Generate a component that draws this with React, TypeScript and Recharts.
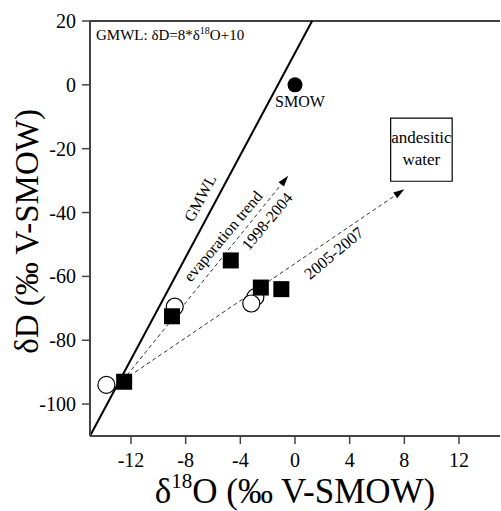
import React from 'react';
import {
  ScatterChart, Scatter, XAxis, YAxis, ReferenceLine, ReferenceDot, ReferenceArea,
} from 'recharts';

const FONT = "'Liberation Serif', 'DejaVu Serif', serif";

// Observed data
const squaresX = [-12.5, -9.0, -4.7, -2.5, -1.0];
const squaresY = [-93, -72.5, -55, -63.5, -64];
const circlesX = [-13.8, -8.8, -2.9, -3.2];
const circlesY = [-94, -69.5, -66.5, -68.5];
const smowX = [0];
const smowY = [0];

// GMWL endpoints (dD = 8*d18O + 10)
const gmwlX = [-15, 1.25];
const gmwlY = [-110, 20];

// Trend arrows
const trend1998X = [-12.3, -0.5];
const trend1998Y = [-91, -28.5];
const trend2005X = [-11.7, 8.0];
const trend2005Y = [-90, -32.7];

// Andesitic water box
const boxX = [7, 11.5];
const boxY = [-30.2, -10.4];

const xTicks = [-12, -8, -4, 0, 4, 8, 12];
const yTicks = [20, 0, -20, -40, -60, -80, -100];

const squares = squaresX.map((x, i) => ({ x, y: squaresY[i] }));
const circles = circlesX.map((x, i) => ({ x, y: circlesY[i] }));
const smow = smowX.map((x, i) => ({ x, y: smowY[i] }));

const SquareShape = (p: any) => (
  <rect x={p.cx - 8} y={p.cy - 8} width={16} height={16} fill="#000" />
);
const CircleShape = (p: any) => (
  <circle cx={p.cx} cy={p.cy} r={8.5} fill="#fff" stroke="#000" strokeWidth={1.2} />
);
const SmowShape = (p: any) => <circle cx={p.cx} cy={p.cy} r={7.5} fill="#000" />;

const ArrowLine = (p: any) => {
  const { x1, y1, x2, y2 } = p;
  const ang = Math.atan2(y2 - y1, x2 - x1);
  const L = 11;
  const W = 3.5;
  const bx = x2 - L * Math.cos(ang);
  const by = y2 - L * Math.sin(ang);
  const nx = -Math.sin(ang) * W;
  const ny = Math.cos(ang) * W;
  return (
    <g>
      <line x1={x1} y1={y1} x2={bx} y2={by} stroke="#333" strokeWidth={1} strokeDasharray="4 3" />
      <polygon points={`${x2},${y2} ${bx + nx},${by + ny} ${bx - nx},${by - ny}`} fill="#000" />
    </g>
  );
};

const rotText = (txt: string, angle: number, size: number) => (p: any) => (
  <text
    x={p.cx}
    y={p.cy}
    transform={`rotate(${angle}, ${p.cx}, ${p.cy})`}
    textAnchor="middle"
    dominantBaseline="central"
    fontFamily={FONT}
    fontSize={size}
    fill="#000"
  >
    {txt}
  </text>
);

export default function App() {
  return (
    <div style={{ position: 'absolute', left: 0, top: 0, background: '#fff' }}>
      <ScatterChart width={501} height={511} margin={{ top: 21, right: 1, left: 0, bottom: 0 }}>
        <XAxis
          type="number"
          dataKey="x"
          domain={[-15, 15]}
          ticks={xTicks}
          allowDataOverflow
          height={75}
          tickSize={8}
          tickMargin={9}
          stroke="#444"
          strokeWidth={2}
          fontFamily={FONT}
          tick={{ fill: '#000', fontSize: 20, fontFamily: FONT }}
          tickLine={{ stroke: '#444', strokeWidth: 1.5 }}
          label={{
            content: (props: any) => {
              const vb = props.viewBox;
              return (
                <text x={vb.x + vb.width / 2} y={503} textAnchor="middle" fontFamily={FONT} fontSize={35} fill="#000">
                  δ<tspan fontSize={21} dy={-15}>18</tspan><tspan dy={15}>O (‰  V-SMOW)</tspan>
                </text>
              );
            },
          }}
        />
        <YAxis
          type="number"
          dataKey="y"
          domain={[-110, 20]}
          ticks={yTicks}
          allowDataOverflow
          width={90}
          tickSize={8}
          tickMargin={6}
          stroke="#444"
          strokeWidth={2}
          fontFamily={FONT}
          tick={{ fill: '#000', fontSize: 20, fontFamily: FONT }}
          tickLine={{ stroke: '#444', strokeWidth: 1.5 }}
          label={{
            content: (props: any) => {
              const vb = props.viewBox;
              const cy = vb.y + vb.height / 2 + 3;
              return (
                <text x={38} y={cy} transform={`rotate(-90, 38, ${cy})`} textAnchor="middle" fontFamily={FONT} fontSize={33} fill="#000">
                  δD (‰  V-SMOW)
                </text>
              );
            },
          }}
        />
        <ReferenceLine y={20} stroke="#000" strokeWidth={1.5} ifOverflow="visible" />
        <ReferenceLine
          segment={[{ x: gmwlX[0], y: gmwlY[0] }, { x: gmwlX[1], y: gmwlY[1] }]}
          stroke="#000"
          strokeWidth={2}
          ifOverflow="visible"
        />
        <ReferenceLine
          segment={[{ x: trend1998X[0], y: trend1998Y[0] }, { x: trend1998X[1], y: trend1998Y[1] }]}
          ifOverflow="visible"
          shape={ArrowLine}
        />
        <ReferenceLine
          segment={[{ x: trend2005X[0], y: trend2005Y[0] }, { x: trend2005X[1], y: trend2005Y[1] }]}
          ifOverflow="visible"
          shape={ArrowLine}
        />
        <ReferenceArea
          x1={boxX[0]}
          x2={boxX[1]}
          y1={boxY[0]}
          y2={boxY[1]}
          stroke="#000"
          strokeWidth={1.2}
          fill="#fff"
          fillOpacity={1}
          ifOverflow="visible"
        />
        <ReferenceDot
          x={(boxX[0] + boxX[1]) / 2}
          y={(boxY[0] + boxY[1]) / 2}
          ifOverflow="visible"
          shape={(p: any) => (
            <text x={p.cx} y={p.cy} textAnchor="middle" fontFamily={FONT} fontSize={17} fill="#000">
              <tspan x={p.cx} dy={-6.5}>andesitic</tspan>
              <tspan x={p.cx} dy={22}>water</tspan>
            </text>
          )}
        />
        <ReferenceDot
          x={-15}
          y={20}
          ifOverflow="visible"
          shape={(p: any) => (
            <text x={p.cx + 6} y={p.cy + 19} fontFamily={FONT} fontSize={15} fill="#000">
              GMWL: δD=8*δ<tspan fontSize={10} dy={-6}>18</tspan><tspan dy={6}>O+10</tspan>
            </text>
          )}
        />
        <ReferenceDot
          x={smowX[0]}
          y={smowY[0]}
          ifOverflow="visible"
          shape={(p: any) => (
            <text x={p.cx + 5} y={p.cy + 22} textAnchor="middle" fontFamily={FONT} fontSize={16} fill="#000">
              SMOW
            </text>
          )}
        />
        <ReferenceDot x={-6.95} y={-35.5} ifOverflow="visible" shape={rotText('GMWL', -62, 16)} />
        <ReferenceDot x={-5.27} y={-47.4} ifOverflow="visible" shape={rotText('evaporation trend', -50, 16)} />
        <ReferenceDot x={-2.05} y={-42.7} ifOverflow="visible" shape={rotText('1998-2004', -50, 16)} />
        <ReferenceDot x={2.85} y={-52.7} ifOverflow="visible" shape={rotText('2005-2007', -40, 16.5)} />
        <Scatter data={circles} shape={CircleShape} isAnimationActive={false} />
        <Scatter data={squares} shape={SquareShape} isAnimationActive={false} />
        <Scatter data={smow} shape={SmowShape} isAnimationActive={false} />
      </ScatterChart>
    </div>
  );
}
